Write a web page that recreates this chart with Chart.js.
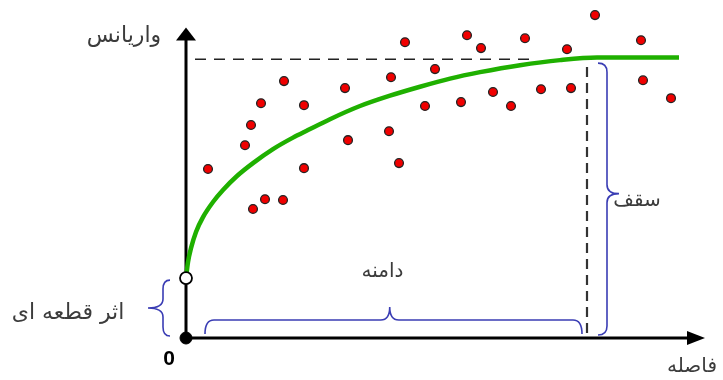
<!DOCTYPE html>
<html>
<head>
<meta charset="utf-8">
<script src="https://cdn.jsdelivr.net/npm/chart.js@4.4.1/dist/chart.umd.min.js"></script>
<style>
  html, body { margin: 0; padding: 0; background: #fff; }
  #wrap { width: 723px; height: 380px; }
</style>
</head>
<body>
<div id="wrap"><canvas id="variogram" width="723" height="380"></canvas></div>
<script>
// experimental variogram points (distance, variance)
const pointDistances = [0.44, 1.18, 1.30, 1.50, 1.96, 2.36, 2.36, 3.18, 3.24, 1.34, 1.58, 1.94,
  4.38, 4.10, 4.06, 4.26, 4.98, 4.78, 5.62, 5.90, 5.50, 6.14, 6.50, 6.78, 7.10, 7.62, 7.70,
  8.18, 9.10, 9.14, 9.70];
const pointVariances = [6.04, 6.89, 7.61, 8.39, 9.18, 8.32, 6.07, 8.93, 7.07, 4.61, 4.96, 4.93,
  10.57, 9.32, 7.39, 6.25, 9.61, 8.29, 10.82, 10.36, 8.43, 8.79, 8.29, 10.71, 8.89, 10.32, 8.93,
  11.54, 10.64, 9.21, 8.57];

// fitted model
const curveDistances = [0, 0.04, 0.10, 0.20, 0.34, 0.54, 0.74, 1.02, 1.34, 1.74, 2.14, 2.44,
  2.88, 3.48, 4.08, 4.68, 5.28, 5.88, 6.68, 7.48, 8.22, 9.08, 9.86];
const curveVariances = [2.14, 2.71, 3.21, 3.79, 4.32, 4.86, 5.29, 5.79, 6.25, 6.75, 7.16, 7.43,
  7.82, 8.29, 8.66, 8.98, 9.27, 9.50, 9.75, 9.93, 10.02, 10.02, 10.02];

const nugget = 2.14;
const sill = 10;
const range = 8.02;

const xMax = 10.4;
const yMax = 11.8;

const originTick = '0';
const yTitle = 'واریانس';
const xTitle = 'فاصله';
const sillLabel = 'سقف';
const rangeLabel = 'دامنه';
const nuggetLabel = 'اثر قطعه ای';

const pts = pointDistances.map((x, i) => ({ x: x, y: pointVariances[i] }));
const curve = curveDistances.map((x, i) => ({ x: x, y: curveVariances[i] }));

function brace(ctx, x1, y1, x2, y2, depth, r, tip) {
  const len = Math.hypot(x2 - x1, y2 - y1);
  const ux = (x2 - x1) / len, uy = (y2 - y1) / len;
  const nx = -uy, ny = ux;
  const P = (s, t) => [x1 + ux * s + nx * t, y1 + uy * s + ny * t];
  const c = 9;
  const m = len * tip;
  ctx.beginPath();
  ctx.moveTo(...P(0, 0));
  ctx.quadraticCurveTo(...P(0, r), ...P(c, r));
  ctx.lineTo(...P(m - c, r));
  ctx.quadraticCurveTo(...P(m, r), ...P(m, depth));
  ctx.quadraticCurveTo(...P(m, r), ...P(m + c, r));
  ctx.lineTo(...P(len - c, r));
  ctx.quadraticCurveTo(...P(len, r), ...P(len, 0));
  ctx.stroke();
}

const decorations = {
  id: 'decorations',
  afterDatasetsDraw(chart) {
    const ctx = chart.ctx;
    const xs = chart.scales.x, ys = chart.scales.y;
    const ox = xs.getPixelForValue(0), oy = ys.getPixelForValue(0);
    ctx.save();

    // arrow heads
    ctx.fillStyle = '#000';
    const yTip = ys.getPixelForValue(11.1);
    ctx.beginPath();
    ctx.moveTo(ox, yTip);
    ctx.lineTo(ox - 10, yTip + 13);
    ctx.lineTo(ox + 10, yTip + 13);
    ctx.closePath();
    ctx.fill();
    const xTip = xs.getPixelForValue(10.38);
    ctx.beginPath();
    ctx.moveTo(xTip, oy);
    ctx.lineTo(xTip - 18, oy - 7);
    ctx.lineTo(xTip - 18, oy + 7);
    ctx.closePath();
    ctx.fill();

    // braces
    ctx.strokeStyle = '#3a3db4';
    ctx.lineWidth = 1.6;
    const ny = ys.getPixelForValue(nugget);
    brace(ctx, ox - 16, ny + 2, ox - 16, oy - 2, 22, 7, 0.5);
    const rx = xs.getPixelForValue(range);
    const sy = ys.getPixelForValue(sill);
    brace(ctx, rx + 11, oy - 3, rx + 11, sy + 5, 21, 9, 0.52);
    brace(ctx, rx - 5, oy - 4, ox + 19, oy - 4, 27, 14, 0.51);

    // texts
    ctx.fillStyle = '#3c3c3c';
    ctx.textBaseline = 'middle';
    ctx.textAlign = 'center';
    ctx.direction = 'rtl';
    ctx.font = '22px "DejaVu Sans"';
    ctx.fillText(yTitle, ox - 62, 36);
    ctx.fillText(nuggetLabel, 68, (ny + oy) / 2 + 5);
    ctx.font = '20px "DejaVu Sans"';
    ctx.fillText(xTitle, 692, oy + 29);
    ctx.fillText(sillLabel, rx + 50, ys.getPixelForValue(sill / 2) + 3);
    ctx.fillText(rangeLabel, xs.getPixelForValue(range / 2) - 4, oy - 66);
    ctx.direction = 'ltr';
    ctx.fillStyle = '#000';
    ctx.font = 'bold 21px "Liberation Sans"';
    ctx.fillText(originTick, ox - 17, oy + 21);
    ctx.restore();
  }
};

new Chart(document.getElementById('variogram'), {
  type: 'scatter',
  data: {
    datasets: [
      {
        data: [{ x: 0, y: 0 }],
        pointRadius: 6, pointHoverRadius: 6,
        backgroundColor: '#000', borderColor: '#000', borderWidth: 1,
        order: 0
      },
      {
        data: [{ x: 0, y: nugget }],
        pointRadius: 6, pointHoverRadius: 6,
        backgroundColor: '#fff', borderColor: '#000', borderWidth: 1.8,
        order: 1
      },
      {
        data: pts,
        pointRadius: 4.4, pointHoverRadius: 4.4,
        backgroundColor: '#f00000', borderColor: '#222', borderWidth: 1.3,
        order: 2
      },
      {
        type: 'line',
        data: curve,
        borderColor: '#1fb000', borderWidth: 4.5,
        pointRadius: 0, cubicInterpolationMode: 'monotone',
        order: 3
      },
      {
        type: 'line',
        data: [{ x: 0.18, y: sill - 0.04 }, { x: 6.88, y: sill - 0.04 }],
        borderColor: '#222', borderWidth: 1.5, borderDash: [11, 8],
        pointRadius: 0, order: 4
      },
      {
        type: 'line',
        data: [{ x: range, y: 9.68 }, { x: range, y: 0.1 }],
        borderColor: '#333', borderWidth: 2.2, borderDash: [10, 6],
        pointRadius: 0, order: 4
      },
      {
        type: 'line',
        data: [{ x: 0, y: 0 }, { x: 0, y: 10.75 }],
        borderColor: '#000', borderWidth: 3, pointRadius: 0, order: 5
      },
      {
        type: 'line',
        data: [{ x: 0, y: 0 }, { x: 10.05, y: 0 }],
        borderColor: '#000', borderWidth: 3, pointRadius: 0, order: 5
      }
    ]
  },
  options: {
    responsive: false,
    animation: false,
    events: [],
    layout: { padding: { left: 186, right: 17, top: 7.6, bottom: 42 } },
    plugins: { legend: { display: false }, tooltip: { enabled: false } },
    scales: {
      x: { type: 'linear', min: 0, max: xMax, display: false },
      y: { type: 'linear', min: 0, max: yMax, display: false }
    },
    clip: false
  },
  plugins: [decorations]
});
</script>
</body>
</html>
